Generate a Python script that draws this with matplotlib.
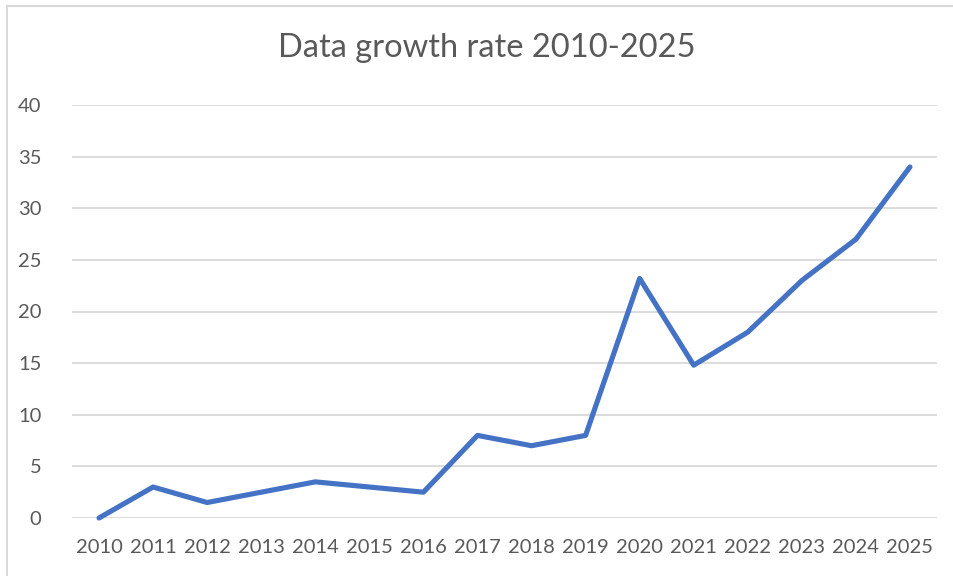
import matplotlib
matplotlib.use("Agg")
import matplotlib.pyplot as plt
from matplotlib.patches import Rectangle

# data
years = ["2010", "2011", "2012", "2013", "2014", "2015", "2016", "2017",
         "2018", "2019", "2020", "2021", "2022", "2023", "2024", "2025"]
growth = [0, 3, 1.5, 2.5, 3.5, 3, 2.5, 8, 7, 8, 23.2, 14.8, 18, 23, 27, 34]
y_ticks = [0, 5, 10, 15, 20, 25, 30, 35, 40]

W, H = 954, 576
plt.rcParams["font.family"] = ["Lato", "DejaVu Sans"]
grey_text = "#595959"

fig = plt.figure(figsize=(W / 100, H / 100), dpi=100)
fig.patch.set_facecolor("white")

# chart frame (cut off on the right and bottom like the screenshot)
fig.patches.append(Rectangle((7 / W, -10 / H), (W + 20) / W, (H + 4) / H,
                             transform=fig.transFigure, fill=False,
                             edgecolor="#D9D9D9", linewidth=1.5))

ax = fig.add_axes([72 / W, 1 - 518 / H, (937 - 72) / W, (518 - 105) / H])
x = list(range(len(years)))
ax.plot(x, growth, color="#4472C4", linewidth=3.7, solid_joinstyle="round",
        solid_capstyle="round", zorder=3, clip_on=False)

ax.set_xlim(-0.5, len(years) - 0.5)
ax.set_ylim(0, 40)
ax.set_yticks(y_ticks)
ax.set_yticklabels([str(v) for v in y_ticks])
ax.set_xticks(x)
ax.set_xticklabels(years)
ax.grid(axis="y", color="#D9D9D9", linewidth=1.3)
ax.set_axisbelow(True)
for s in ax.spines.values():
    s.set_visible(False)
ax.tick_params(length=0, labelsize=14.5, colors=grey_text)
ax.tick_params(axis="y", pad=22)
ax.tick_params(axis="x", pad=15)

fig.text(487 / W, 1 - 48 / H, "Data growth rate 2010-2025", ha="center",
         va="center", fontsize=23.5, color=grey_text)

fig.savefig("out.png", dpi=100)
